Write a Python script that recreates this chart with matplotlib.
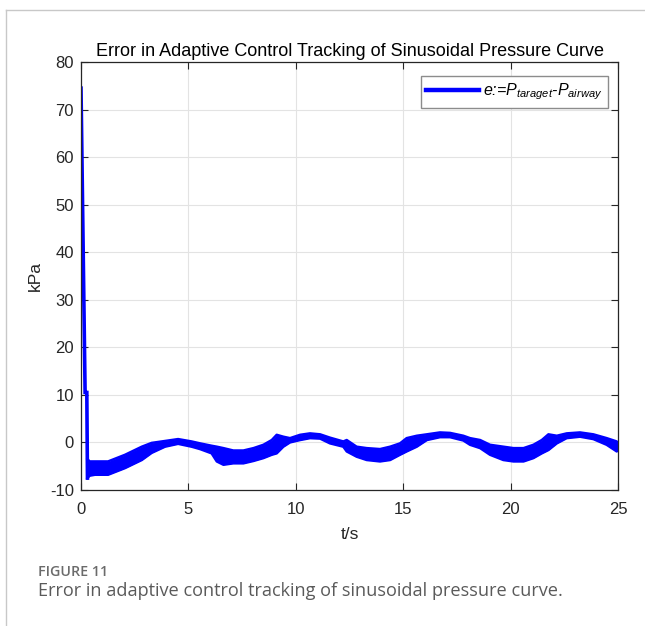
import matplotlib
matplotlib.use("Agg")
import matplotlib.pyplot as plt
from matplotlib.lines import Line2D

plt.rcParams["font.family"] = ["Liberation Sans", "DejaVu Sans"]
plt.rcParams["mathtext.fontset"] = "custom"
plt.rcParams["mathtext.it"] = "Liberation Sans:italic"
plt.rcParams["mathtext.rm"] = "Liberation Sans:italic"
plt.rcParams["axes.unicode_minus"] = False

# Start-up transient: error falls from the initial offset
t_start = [0.0, 0.19, 0.22, 0.27, 0.30]
e_start = [74.5, 10.5, 10.5, 10.5, -7.5]

# Tracking error after the transient: upper / lower edge of the chattering band
t_band = [0.30, 0.40, 0.65, 1.26, 2.05, 2.83, 3.29, 3.91, 4.52, 5.15, 5.54,
          6.08, 6.32, 6.63, 7.09, 7.56, 8.03, 8.49, 8.88, 9.11, 9.42, 9.73,
          10.20, 10.66, 11.13, 11.59, 12.21, 12.37, 12.83, 13.30, 13.92,
          14.39, 14.85, 15.16, 15.63, 16.10, 16.71, 17.18, 17.80, 18.11,
          18.58, 19.04, 19.66, 20.13, 20.60, 21.06, 21.45, 21.76, 22.15,
          22.61, 23.23, 23.85, 24.47, 24.94, 25.00]
e_upper = [-3.5, -4.0, -4.0, -4.0, -2.6, -0.9, -0.1, 0.3, 0.7, 0.2, -0.2,
           -0.7, -0.9, -1.2, -1.7, -1.7, -1.2, -0.5, 0.5, 1.6, 1.2, 0.9,
           1.6, 1.9, 1.7, 1.0, 0.2, 0.5, -0.9, -1.2, -1.4,
           -0.9, -0.2, 0.9, 1.4, 1.7, 2.1, 2.0, 1.4, 0.9,
           0.5, -0.5, -0.9, -1.2, -1.2, -0.5, 0.5, 1.7, 1.4,
           1.9, 2.1, 1.7, 0.9, 0.2, -0.3]
e_lower = [-7.5, -7.0, -6.8, -6.8, -5.4, -3.7, -2.2, -0.9, -0.3, -0.9, -1.4,
           -2.3, -4.0, -4.7, -4.4, -4.4, -3.9, -3.3, -2.6, -2.3, -0.9, 0.0,
           0.5, 0.9, 0.8, -0.2, -0.9, -1.9, -3.0, -3.7, -4.0,
           -3.7, -2.6, -1.9, -0.9, 0.5, 1.1, 1.1, 0.4, -0.5,
           -1.2, -2.6, -3.7, -4.0, -4.0, -3.3, -2.3, -1.6, -0.2,
           0.9, 1.2, 0.7, -0.5, -1.9, -1.6]

x_ticks = [0, 5, 10, 15, 20, 25]
y_ticks = [-10, 0, 10, 20, 30, 40, 50, 60, 70, 80]

blue = "#0000ff"

fig = plt.figure(figsize=(6.45, 6.26), dpi=100)
ax = fig.add_axes([0.1256, 0.2173, 0.8326, 0.6837])

ax.plot(t_start, e_start, color=blue, lw=2.6, solid_joinstyle="miter")
ax.fill_between(t_band, e_lower, e_upper, color=blue, lw=0)
ax.plot(t_band, e_upper, color=blue, lw=1.8)
ax.plot(t_band, e_lower, color=blue, lw=1.8)

ax.set_xlim(0, 25)
ax.set_ylim(-10, 80)
ax.set_xticks(x_ticks)
ax.set_yticks(y_ticks)
ax.grid(True, color="#e3e3e3", lw=0.8)
ax.set_axisbelow(True)
ax.tick_params(direction="in", top=True, right=True, length=5, width=0.8,
               labelsize=12, colors="#262626", labelcolor="#262626")
ax.tick_params(axis="x", pad=9)
ax.tick_params(axis="y", pad=5)
for s in ax.spines.values():
    s.set_color("#262626")
    s.set_linewidth(0.9)

ax.set_title("Error in Adaptive Control Tracking of Sinusoidal Pressure Curve",
             fontsize=13, color="black", pad=4)
ax.set_xlabel("t/s", fontsize=12.5, color="#262626", labelpad=7)
ax.set_ylabel("kPa", fontsize=12.5, color="#262626", labelpad=5)

handle = Line2D([], [], color=blue, lw=3.2)
leg = ax.legend([handle], [r"$e$:=$P_{taraget}$-$P_{airway}$"],
                loc="upper right", bbox_to_anchor=(0.9905, 0.979),
                prop={"family": "Liberation Sans", "style": "italic",
                      "size": 11.5},
                handlelength=3.3, handletextpad=0.25,
                borderpad=0.35, borderaxespad=0.3, fancybox=False,
                framealpha=1)
leg.get_frame().set_edgecolor("#8c8c8c")
leg.get_frame().set_linewidth(1.0)

# Page frame around the figure panel
fig.add_artist(Line2D([6 / 645, 1.0], [1 - 10 / 626, 1 - 10 / 626],
                      transform=fig.transFigure, color="#c8c8c8", lw=1))
fig.add_artist(Line2D([6 / 645, 6 / 645], [0.0, 1 - 10 / 626],
                      transform=fig.transFigure, color="#c8c8c8", lw=1))

fig.text(38 / 645, 1 - 572 / 626, "FIGURE 11", fontsize=10.3,
         family=["Open Sans", "DejaVu Sans"], weight="semibold",
         color="#6b6b6b", va="center")
fig.text(38 / 645, 1 - 591 / 626,
         "Error in adaptive control tracking of sinusoidal pressure curve.",
         fontsize=13.1, family=["Open Sans", "DejaVu Sans"], color="#5a5a5a",
         va="center")

fig.savefig("out.png", dpi=100)
